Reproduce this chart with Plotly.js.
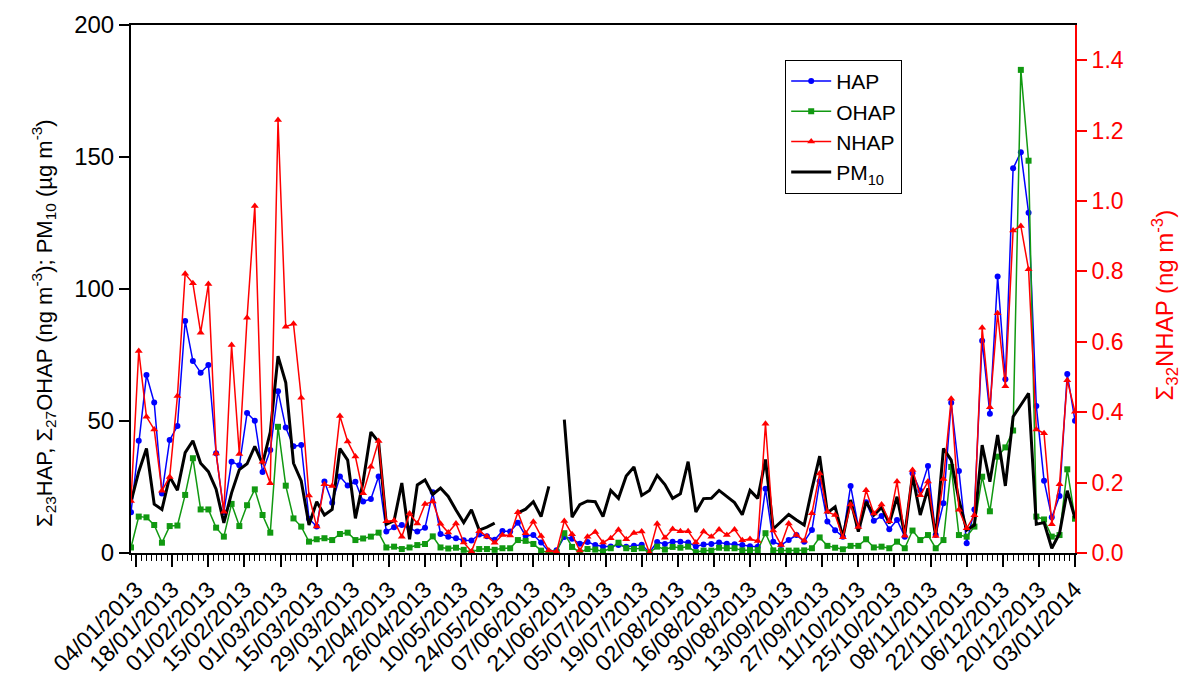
<!DOCTYPE html>
<html>
<head>
<meta charset="utf-8">
<script src="https://cdn.plot.ly/plotly-3.0.1.min.js"></script>
<style>
  html, body { margin: 0; padding: 0; background: #fff; }
  #chart { width: 1193px; height: 675px; }
</style>
</head>
<body>
<div id="chart"></div>
<script>
// Sampling every third day, first sample 02/01/2013
const firstSample = '2013-01-02';
const sampleStepDays = 3;

// Σ23 HAP (ng m-3)
const HAP = [
  15.4, 42.5, 67.4, 57.0, 22.5, 42.8, 48.1, 87.9, 72.7, 68.3,
  71.2, 37.8, 15.4, 34.6, 33.2, 53.0, 50.1, 30.7, 39.0, 61.3,
  47.5, 40.4, 40.9, 13.0, 10.0, 27.1, 19.0, 29.0, 25.6, 27.0,
  19.5, 20.5, 29.0, 8.1, 9.8, 10.6, 9.3, 8.1, 9.6, 23.0,
  7.2, 6.2, 5.6, 4.8, 4.7, 7.0, 6.3, 5.0, 8.3, 8.1,
  11.5, 6.5, 6.8, 4.0, 0.6, 1.0, 6.1, 5.4, 3.5, 4.2,
  3.0, 2.5, 2.5, 3.0, 2.4, 2.7, 3.1, 0.2, 4.2, 3.4,
  4.3, 4.3, 4.0, 2.5, 3.2, 3.4, 4.0, 3.5, 3.3, 3.0,
  2.6, 2.4, 24.3, 4.3, 3.0, 4.9, 6.8, 4.3, 8.7, 27.2,
  11.9, 8.6, 6.2, 25.4, 10.0, 19.2, 12.2, 14.0, 9.0, 12.5,
  6.2, 30.2, 23.6, 33.0, 6.8, 18.8, 56.9, 31.1, 3.7, 16.5,
  80.4, 52.7, 104.7, 65.8, 145.7, 151.8, 128.9, 55.7, 27.4, 13.5,
  21.6, 67.8, 50.1
];

// Σ27 OHAP (ng m-3)
const OHAP = [
  2.1, 13.8, 13.5, 10.6, 3.9, 10.2, 10.4, 22.0, 35.9, 16.5,
  16.5, 9.6, 6.2, 18.6, 10.2, 18.1, 24.1, 14.4, 7.7, 47.8,
  25.5, 13.1, 10.0, 4.3, 5.2, 5.6, 4.9, 7.2, 7.7, 4.9,
  5.5, 6.2, 7.7, 2.1, 2.4, 1.5, 2.1, 3.0, 3.4, 6.3,
  2.1, 1.7, 2.0, 1.2, 0.2, 1.5, 1.5, 1.2, 1.8, 1.8,
  4.9, 4.6, 3.4, 0.9, 0.1, 0.2, 7.5, 2.3, 0.2, 1.5,
  1.3, 0.6, 1.8, 3.9, 1.8, 1.5, 1.8, 0.1, 2.4, 1.3,
  2.3, 2.0, 2.4, 0.3, 0.9, 0.9, 2.0, 1.8, 1.8, 1.0,
  1.1, 1.1, 7.5, 1.0, 0.9, 0.9, 0.9, 1.0, 1.8, 5.9,
  2.7, 2.0, 1.4, 2.7, 2.7, 5.2, 2.1, 2.4, 1.8, 4.3,
  1.8, 8.5, 4.9, 6.8, 1.8, 4.9, 32.6, 6.8, 6.2, 10.0,
  28.9, 15.8, 36.5, 40.0, 46.4, 183.0, 148.6, 13.8, 12.7, 6.2,
  6.8, 31.7, 13.0
];

// Σ32 NHAP (ng m-3), right axis
const NHAP = [
  0.148, 0.574, 0.387, 0.351, 0.177, 0.216, 0.446, 0.793, 0.766, 0.626,
  0.764, 0.283, 0.117, 0.591, 0.281, 0.668, 0.986, 0.259, 0.198, 1.230,
  0.643, 0.651, 0.441, 0.163, 0.075, 0.195, 0.190, 0.389, 0.317, 0.274,
  0.170, 0.245, 0.318, 0.090, 0.092, 0.046, 0.112, 0.084, 0.139, 0.146,
  0.083, 0.058, 0.084, 0.030, 0.004, 0.062, 0.047, 0.029, 0.051, 0.050,
  0.116, 0.056, 0.089, 0.048, 0.007, 0.004, 0.091, 0.053, 0.007, 0.046,
  0.060, 0.030, 0.042, 0.066, 0.039, 0.057, 0.061, 0.001, 0.083, 0.043,
  0.068, 0.062, 0.062, 0.030, 0.061, 0.046, 0.067, 0.051, 0.067, 0.036,
  0.040, 0.034, 0.367, 0.064, 0.023, 0.084, 0.051, 0.035, 0.113, 0.226,
  0.117, 0.108, 0.045, 0.138, 0.074, 0.178, 0.112, 0.138, 0.090, 0.203,
  0.049, 0.236, 0.164, 0.203, 0.048, 0.210, 0.438, 0.123, 0.070, 0.107,
  0.640, 0.414, 0.681, 0.474, 0.916, 0.929, 0.806, 0.351, 0.340, 0.082,
  0.195, 0.491, 0.401
];

// PM10 (µg m-3); null = no measurement
const PM10 = [
  19.4, 30.8, 39.6, 18.5, 16.5, 28.9, 23.8, 38.0, 42.5, 34.0,
  30.8, 24.2, 11.4, 22.8, 31.6, 33.8, 40.4, 33.8, 45.8, 74.6,
  64.6, 34.0, 27.3, 10.6, 19.4, 14.4, 16.5, 39.6, 35.2, 13.1,
  27.0, 45.8, 42.0, 10.9, 12.2, 26.5, 5.2, 25.8, 27.7, 22.2,
  24.6, 21.4, 16.3, 11.5, 16.4, 8.7, 9.8, 11.3, null, null,
  15.2, 16.6, 19.4, 13.8, 25.2, null, 50.5, 13.6, 18.3, 19.7,
  19.4, 13.8, 23.7, 20.7, 29.2, 32.6, 21.8, 23.7, 29.4, 25.9,
  20.7, 22.4, 34.6, 15.5, 20.6, 20.7, 23.7, 21.4, 19.1, 14.5,
  23.7, 20.7, 35.4, 9.1, 11.7, 14.6, 12.5, 10.6, 24.2, 36.7,
  15.2, 17.5, 5.9, 20.1, 8.1, 19.4, 14.4, 17.3, 11.2, 21.3,
  6.8, 29.5, 14.4, 24.5, 6.2, 39.6, 35.2, 20.1, 8.7, 10.6,
  40.9, 27.0, 44.7, 25.4, 51.6, 56.0, 60.5, 10.9, 11.5, 1.8,
  7.4, 23.6, 13.1
];

// Axis titles
const leftTitle = 'Σ<sub>23</sub>HAP, Σ<sub>27</sub>OHAP (ng m<sup>-3</sup>); PM<sub>10</sub> (µg m<sup>-3</sup>)';
const rightTitle = 'Σ<sub>32</sub>NHAP (ng m<sup>-3</sup>)';

const DAY = 86400000;
const t0 = Date.parse(firstSample + 'T00:00:00Z');
const dates = HAP.map((_, i) =>
  new Date(t0 + i * sampleStepDays * DAY).toISOString().slice(0, 10));

const FONT = 'Liberation Sans, Arial, sans-serif';
const BLUE = 'rgb(0,0,255)';
const GREEN = 'rgb(17,153,17)';
const RED = 'rgb(255,0,0)';

const traces = [
  {
    name: 'HAP', x: dates, y: HAP, type: 'scatter', mode: 'lines+markers',
    line: { color: BLUE, width: 1.5 },
    marker: { color: BLUE, symbol: 'circle', size: 6 }
  },
  {
    name: 'OHAP', x: dates, y: OHAP, type: 'scatter', mode: 'lines+markers',
    line: { color: GREEN, width: 1.5 },
    marker: { color: GREEN, symbol: 'square', size: 6 }
  },
  {
    name: 'NHAP', x: dates, y: NHAP, yaxis: 'y2', type: 'scatter', mode: 'lines+markers',
    line: { color: RED, width: 1.5 },
    marker: { color: RED, symbol: 'triangle-up', size: 7 }
  },
  {
    name: 'PM<sub>10</sub>', x: dates, y: PM10, type: 'scatter', mode: 'lines',
    connectgaps: false,
    line: { color: 'black', width: 3 }
  }
];

const layout = {
  width: 1193, height: 675,
  margin: { l: 131, r: 118, t: 25, b: 122 },
  paper_bgcolor: 'white', plot_bgcolor: 'white',
  font: { family: FONT, color: 'black' },
  showlegend: true,
  legend: {
    x: 0.693, y: 0.934, xanchor: 'left', yanchor: 'top',
    bgcolor: 'white', bordercolor: 'black', borderwidth: 1,
    font: { family: FONT, size: 21, color: 'black' },
    itemwidth: 40, entrywidth: 140,
    traceorder: 'normal'
  },
  xaxis: {
    type: 'date',
    range: ['2013-01-02', '2014-01-03'],
    tick0: '2013-01-04', dtick: 14 * DAY,
    tickformat: '%d/%m/%Y', tickangle: -45,
    tickfont: { family: FONT, size: 23, color: 'black' },
    ticks: 'outside', ticklen: 12, tickwidth: 2, tickcolor: 'black',
    minor: { ticks: 'outside', ticklen: 6, tickwidth: 1, tickcolor: 'black', dtick: 2 * DAY, tick0: '2013-01-04' },
    showline: true, linecolor: 'black', linewidth: 2, mirror: true,
    showgrid: false, zeroline: false
  },
  yaxis: {
    range: [0, 200], dtick: 50,
    tickfont: { family: FONT, size: 24, color: 'black' },
    ticks: 'outside', ticklen: 10, tickwidth: 2, tickcolor: 'black',
    showline: true, linecolor: 'black', linewidth: 2,
    showgrid: false, zeroline: false
  },
  yaxis2: {
    overlaying: 'y', side: 'right',
    range: [0, 1.5], dtick: 0.2, tickformat: '.1f',
    tickfont: { family: FONT, size: 23, color: RED },
    ticks: 'outside', ticklen: 10, tickwidth: 2, tickcolor: RED,
    showline: true, linecolor: RED, linewidth: 2,
    showgrid: false, zeroline: false
  },
  annotations: [
    {
      text: leftTitle, textangle: -90, showarrow: false,
      xref: 'paper', yref: 'paper', x: -0.092, y: 0.436,
      xanchor: 'center', yanchor: 'middle',
      font: { family: FONT, size: 22, color: 'black' }
    },
    {
      text: rightTitle, textangle: -90, showarrow: false,
      xref: 'paper', yref: 'paper', x: 1.095, y: 0.47,
      xanchor: 'center', yanchor: 'middle',
      font: { family: FONT, size: 24, color: RED }
    }
  ]
};

Plotly.newPlot('chart', traces, layout, { displayModeBar: false, staticPlot: true });
</script>
</body>
</html>
